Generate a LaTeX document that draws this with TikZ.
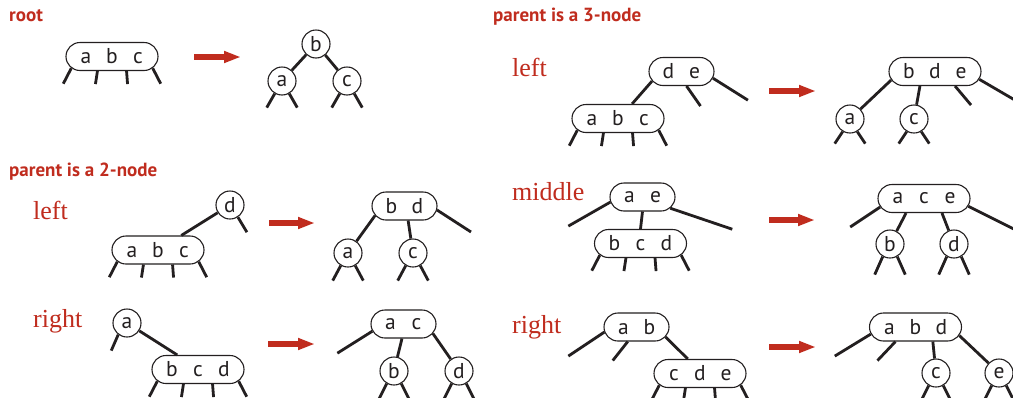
\documentclass[tikz,border=0pt]{standalone}
\usepackage{fontspec}
\setmainfont{PT Sans}
\newfontfamily\labfont{Liberation Serif}
\usetikzlibrary{shapes.misc,arrows.meta}
\definecolor{rd}{RGB}{192,44,30}
\definecolor{ink}{RGB}{35,31,32}
\newcommand\kk[1]{\makebox[26pt]{#1}}
\tikzset{
  pill/.style={rounded rectangle, draw=ink, line width=1.1pt, inner sep=0pt,
    minimum height=28pt, font=\fontsize{21.5}{21.5}\selectfont, text=ink},
  pillthree/.style={pill, minimum width=92pt},
  pilltwo/.style={pill, minimum width=65pt},
  keynode/.style={circle, draw=ink, line width=1.1pt, inner sep=0pt,
    minimum size=28pt, font=\fontsize{21.5}{21.5}\selectfont, text=ink},
  edge/.style={draw=ink, line width=2.8pt},
  heading/.style={anchor=base west, inner sep=0pt, text=rd,
    font=\fontsize{19}{19}\selectfont\bfseries},
  caselabel/.style={anchor=base west, inner sep=0pt, text=rd,
    font=\labfont\fontsize{26}{26}\selectfont},
  redarrow/.style={draw=rd, line width=5.5pt, -{Triangle[length=17pt,width=11pt]}},
}
\newcommand\threelegs[1]{%
  \draw[edge] (#1.196) -- ++(-8,15.5);
  \draw[edge] (#1.225) -- ++(-2,13);
  \draw[edge] (#1.315) -- ++(1,13);
  \draw[edge] (#1.344) -- ++(8,15.5);}
\newcommand\circlegs[2]{%
  \draw[edge] (#1.240) -- ++(-8,#2);
  \draw[edge] (#1.300) -- ++(8,#2);}
\begin{document}
\begin{tikzpicture}[x=1pt,y=-1pt]
\path[use as bounding box] (0,0) rectangle (1013,397);
\clip (0,0) rectangle (1013,397);
\fill[white] (0,0) rectangle (1013,397);

% ---------- root ----------
\node[heading] (hroot) at (9,21.5) {root};
\node[pillthree] (r1) at (112,56.5) {\kk{a}\kk{b}\kk{c}};
\threelegs{r1}
\coordinate (ar1s) at (194,57);
\coordinate (ar1e) at (241,57);
\draw[redarrow] (ar1s) -- (ar1e);
\node[keynode] (rb) at (316,44) {b};
\node[keynode] (ra) at (282,81) {a};
\node[keynode] (rc) at (347,81) {c};
\draw[edge] (rb) -- (ra);
\draw[edge] (rb) -- (rc);
\circlegs{ra}{14}
\circlegs{rc}{14}

% ---------- parent is a 2-node ----------
\node[heading] (htwo) at (9,176) {parent is a 2-node};

% left
\node[caselabel] (lleft) at (33,219) {left};
\node[keynode] (ld) at (230,205) {d};
\draw[edge] (ld.303) -- ++(9,15);
\node[pillthree] (labc) at (158,250) {\kk{a}\kk{b}\kk{c}};
\draw[edge] (ld) -- (labc.32);
\threelegs{labc}
\coordinate (ar2s) at (269,223);
\coordinate (ar2e) at (315,223);
\draw[redarrow] (ar2s) -- (ar2e);
\node[pilltwo] (lbd) at (404.5,206) {\kk{b}\kk{d}};
\node[keynode] (la) at (348,253) {a};
\node[keynode] (lc) at (413,253) {c};
\draw[edge] (lbd.198) -- (la);
\draw[edge] (lbd.284) -- (lc);
\draw[edge] (lbd.353) -- ++(34,22);
\circlegs{la}{15}
\circlegs{lc}{15}

% right
\node[caselabel] (lright) at (33,327) {right};
\node[keynode] (ga) at (127,323) {a};
\draw[edge] (ga.233) -- ++(-7,16);
\node[pillthree] (gbcd) at (198,369.5) {\kk{b}\kk{c}\kk{d}};
\draw[edge] (ga) -- (gbcd.145);
\threelegs{gbcd}
\coordinate (ar3s) at (268,344);
\coordinate (ar3e) at (315,344);
\draw[redarrow] (ar3s) -- (ar3e);
\node[pilltwo] (gac) at (403.5,324) {\kk{a}\kk{c}};
\node[keynode] (gb) at (394,371) {b};
\node[keynode] (gd) at (459,371) {d};
\draw[edge] (gac.193) -- ++(-35,22);
\draw[edge] (gac.264) -- (gb);
\draw[edge] (gac.342) -- (gd);
\circlegs{gb}{16}
\circlegs{gd}{16}

% ---------- parent is a 3-node ----------
\node[heading] (hthree) at (493,21.5) {parent is a 3-node};

% left
\node[caselabel] (tleft) at (512,76) {left};
\node[pilltwo] (tde) at (681.5,71.5) {\kk{d}\kk{e}};
\draw[edge] (tde.289) -- ++(14,20);
\draw[edge] (tde.348) -- ++(35,22);
\node[pillthree] (tabc) at (618,118.5) {\kk{a}\kk{b}\kk{c}};
\draw[edge] (tde.198) -- (tabc.46);
\threelegs{tabc}
\coordinate (ar4s) at (769,91);
\coordinate (ar4e) at (816,91);
\draw[redarrow] (ar4s) -- (ar4e);
\node[pillthree] (tbde) at (935,71.5) {\kk{b}\kk{d}\kk{e}};
\node[keynode] (ta) at (850,119) {a};
\node[keynode] (tc) at (914,119) {c};
\draw[edge] (tbde.191) -- (ta);
\draw[edge] (tbde.224) -- (tc);
\draw[edge] (tbde.324) -- ++(16,19);
\draw[edge] (tbde.350) -- ++(36,21);
\circlegs{ta}{12}
\circlegs{tc}{12}

% middle
\node[caselabel] (tmid) at (512,200) {middle};
\node[pilltwo] (mae) at (642.5,197) {\kk{a}\kk{e}};
\node[pillthree] (mbcd) at (640.5,243.5) {\kk{b}\kk{c}\kk{d}};
\draw[edge] (mae.189) -- ++(-42,24);
\draw[edge] (mae.270) -- (mbcd.north);
\draw[edge] (mae.338) -- ++(62,21);
\threelegs{mbcd}
\coordinate (ar5s) at (769,220);
\coordinate (ar5e) at (815,220);
\draw[redarrow] (ar5s) -- (ar5e);
\node[pillthree] (mace) at (924,198.5) {\kk{a}\kk{c}\kk{e}};
\node[keynode] (mb) at (890,244) {b};
\node[keynode] (md) at (954,244) {d};
\draw[edge] (mace.191) -- ++(-30,20);
\draw[edge] (mace.219) -- (mb);
\draw[edge] (mace.321) -- (md);
\draw[edge] (mace.350) -- ++(50,25);
\circlegs{mb}{18}
\circlegs{md}{18}

% right
\node[caselabel] (tright) at (512,333) {right};
\node[pilltwo] (qab) at (636.5,327) {\kk{a}\kk{b}};
\node[pillthree] (qcde) at (700,373.5) {\kk{c}\kk{d}\kk{e}};
\draw[edge] (qab.189) -- ++(-36,24);
\draw[edge] (qab.239) -- ++(-15,19);
\draw[edge] (qab.341) -- (qcde.130);
\threelegs{qcde}
\coordinate (ar6s) at (769,347);
\coordinate (ar6e) at (816,347);
\draw[redarrow] (ar6s) -- (ar6e);
\node[pillthree] (qabd) at (915.5,327) {\kk{a}\kk{b}\kk{d}};
\node[keynode] (qc) at (936,373) {c};
\node[keynode] (qe) at (999,373) {e};
\draw[edge] (qabd.189) -- ++(-36,22);
\draw[edge] (qabd.216) -- ++(-18,19);
\draw[edge] (qabd.320) -- (qc);
\draw[edge] (qabd.349) -- (qe);
\circlegs{qc}{16}
\circlegs{qe}{16}
\end{tikzpicture}
\end{document}
